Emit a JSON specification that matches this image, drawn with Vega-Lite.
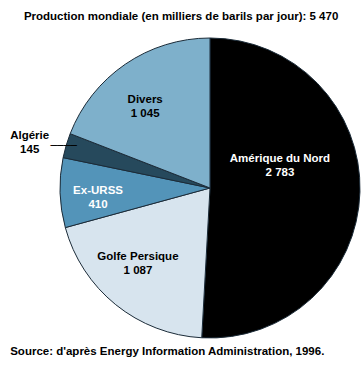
{
  "$schema": "https://vega.github.io/schema/vega-lite/v6.json",
  "autosize": {"type": "pad"},
  "padding": {"left": 10, "top": 10, "right": 0, "bottom": 4},
  "background": "white",
  "title": {
    "text": "Production mondiale (en milliers de barils par jour): 5 470",
    "anchor": "middle",
    "dx": -5,
    "offset": 14,
    "font": "Liberation Sans",
    "fontSize": 11.5,
    "fontWeight": "bold",
    "color": "black"
  },
  "datasets": {
    "parts": [
      {"nom": "Amérique du Nord", "valeur": 2783, "ordre": 1, "etiquette": "Amérique du Nord\n2 783"},
      {"nom": "Golfe Persique", "valeur": 1087, "ordre": 2, "etiquette": "Golfe Persique\n1 087"},
      {"nom": "Ex-URSS", "valeur": 410, "ordre": 3, "etiquette": "Ex-URSS\n410"},
      {"nom": "Algérie", "valeur": 145, "ordre": 4, "etiquette": "Algérie\n145"},
      {"nom": "Divers", "valeur": 1045, "ordre": 5, "etiquette": "Divers\n1 045"}
    ]
  },
  "vconcat": [
    {
      "width": 300,
      "height": 300,
      "title": {
        "text": "Source: d'après Energy Information Administration, 1996.",
        "orient": "bottom",
        "anchor": "start",
        "dx": 0,
        "offset": 6,
        "font": "Liberation Sans",
        "fontSize": 11.5,
        "fontWeight": "bold",
        "color": "black"
      },
      "data": {"name": "parts"},
      "encoding": {
        "theta": {"field": "valeur", "type": "quantitative", "stack": true},
        "order": {"field": "ordre", "type": "quantitative"}
      },
      "layer": [
        {
          "mark": {"type": "arc", "stroke": "#1b2b38", "strokeWidth": 1},
          "encoding": {
            "color": {
              "field": "nom",
              "type": "nominal",
              "scale": {
                "domain": ["Amérique du Nord", "Golfe Persique", "Ex-URSS", "Algérie", "Divers"],
                "range": ["#000000", "#d7e4ee", "#5394b9", "#26495c", "#7eb0cb"]
              },
              "legend": null
            }
          }
        },
        {
          "mark": {"type": "text", "radius": 90, "dx": -20, "dy": -31.5, "color": "white"},
          "encoding": {"text": {"condition": {"test": "datum.nom === 'Amérique du Nord'", "field": "etiquette"}, "value": ""}}
        },
        {
          "mark": {"type": "text", "radius": 90, "dx": -15.5, "dy": -1, "color": "black"},
          "encoding": {"text": {"condition": {"test": "datum.nom === 'Golfe Persique'", "field": "etiquette"}, "value": ""}}
        },
        {
          "mark": {"type": "text", "radius": 90, "dx": -22, "dy": 0.5, "color": "white"},
          "encoding": {"text": {"condition": {"test": "datum.nom === 'Ex-URSS'", "field": "etiquette"}, "value": ""}}
        },
        {
          "mark": {"type": "text", "radius": 90, "dx": -14, "dy": -13.5, "color": "black"},
          "encoding": {"text": {"condition": {"test": "datum.nom === 'Divers'", "field": "etiquette"}, "value": ""}}
        },
        {
          "mark": {"type": "text", "radius": 90, "dx": -94, "dy": -27, "color": "black"},
          "encoding": {"text": {"condition": {"test": "datum.nom === 'Algérie'", "field": "etiquette"}, "value": ""}}
        },
        {
          "mark": {"type": "text", "radius": 90, "dx": -60, "dy": -17, "color": "black", "font": "DejaVu Sans", "fontWeight": "normal", "fontSize": 11},
          "encoding": {"text": {"condition": {"test": "datum.nom === 'Algérie'", "value": "────"}, "value": ""}}
        }
      ]
    }
  ],
  "config": {
    "view": {"stroke": null},
    "concat": {"spacing": 0},
    "text": {"font": "Liberation Sans", "fontSize": 11.5, "fontWeight": "bold", "lineBreak": "\n", "lineHeight": 14, "baseline": "middle", "align": "center"}
  }
}
